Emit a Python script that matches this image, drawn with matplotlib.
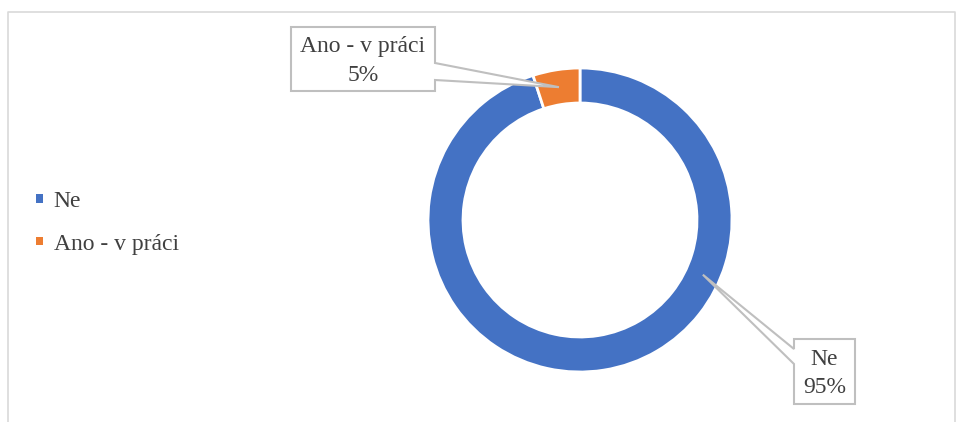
import numpy as np
import matplotlib.pyplot as plt
from matplotlib.patches import Polygon, Patch

# Data
labels = ["Ne", "Ano - v práci"]
values = [95, 5]
colors = ["#4472C4", "#ED7D31"]
pct_labels = ["95%", "5%"]

W, H = 956, 422
plt.rcParams['font.family'] = ['Liberation Serif', 'DejaVu Serif']
txt_color = "#404040"
line_color = "#BFBFBF"

fig = plt.figure(figsize=(W / 100, H / 100), dpi=100)
ax = fig.add_axes([0, 0, 1, 1])

# outer chart frame
ax.plot([8, 8, 955, 955], [-5, H - 12, H - 12, -5], color="#D9D9D9", lw=1.2)

# donut
cx, cy, R, ring = 580, H - 220, 152, 35
wedges, _ = ax.pie(values, colors=colors, startangle=90, counterclock=False,
                   radius=R, center=(cx, cy), frame=True,
                   wedgeprops=dict(width=ring, edgecolor="white", linewidth=2))
ax.set_xlim(0, W)
ax.set_ylim(0, H)
ax.set_aspect("equal")
ax.axis("off")


def anchor(w, ang=None):
    # point inside the ring where the leader line ends
    if ang is None:
        ang = (w.theta1 + w.theta2) / 2
    r = R - ring / 2
    return cx + r * np.cos(np.radians(ang)), cy + r * np.sin(np.radians(ang))


def callout(box, base, tip, side, text):
    # box = (left, top, right, bottom) in pixels from top
    l, t, r, b = box
    t, b = H - t, H - b
    b1, b2 = H - base[0], H - base[1]
    if side == "right":
        pts = [(l, t), (r, t), (r, b1), tip, (r, b2), (r, b), (l, b)]
    else:
        pts = [(l, t), (r, t), (r, b), (l, b), (l, b2), tip, (l, b1)]
    ax.add_patch(Polygon(pts, closed=True, facecolor="white",
                         edgecolor=line_color, lw=1.5, zorder=5))
    ax.text((l + r) / 2, (t + b) / 2 - 2, text, ha="center", va="center",
            fontsize=17, color=txt_color, linespacing=1.45, zorder=6)


# data label callouts
callout((291, 27, 435, 91), (63, 80), anchor(wedges[1]), "right",
        labels[1] + "\n" + pct_labels[1])
callout((794, 339, 855, 404), (349, 364), anchor(wedges[0], -24), "left",
        labels[0] + "\n" + pct_labels[0])

# legend
handles = [Patch(facecolor=c, edgecolor="none") for c in colors]
fig.legend(handles, labels, loc="center left",
           bbox_to_anchor=(36 / W, 1 - 223 / H), bbox_transform=fig.transFigure,
           frameon=False, fontsize=17, labelcolor=txt_color,
           handlelength=0.3, handleheight=0.2, handletextpad=0.45,
           labelspacing=0.9, borderpad=0, borderaxespad=0)

fig.savefig("out.png", dpi=100)
